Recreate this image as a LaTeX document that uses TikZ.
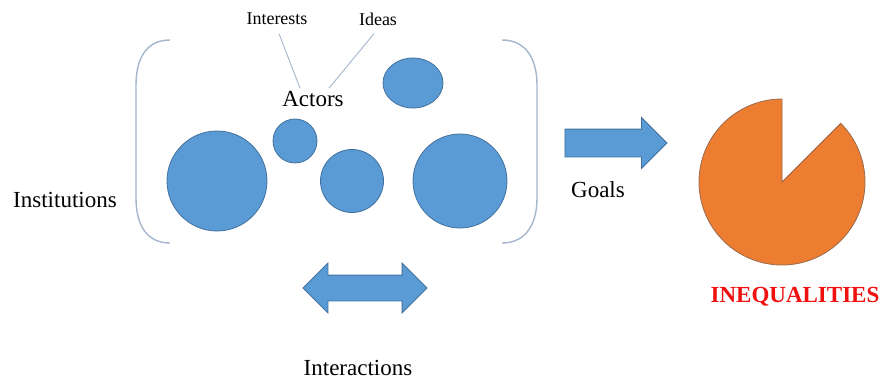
\documentclass[tikz,border=0pt]{standalone}
\usepackage{fontspec}
\setmainfont{Liberation Serif}
\usepackage{tikz}
\definecolor{oblue}{HTML}{5B9BD5}
\definecolor{oblueline}{HTML}{41719C}
\definecolor{oorange}{HTML}{ED7D31}
\definecolor{pieline}{HTML}{9A6A4A}
\definecolor{brgray}{HTML}{A3B6CC}
\definecolor{ineqred}{HTML}{F01010}
\usetikzlibrary{shapes.geometric,shapes.arrows}
\tikzset{blob/.style = {circle,fill=oblue,draw=oblueline,line width=0.8pt,inner sep=0pt}}
\tikzset{big/.style = {font=\fontsize{23}{27}\selectfont}}
\tikzset{small/.style = {font=\fontsize{18}{22}\selectfont}}
\tikzset{brk/.style = {draw=brgray,line width=1.4pt}}

\begin{document}
\begin{tikzpicture}[x=1pt,y=1pt]
      \useasboundingbox (0,0) rectangle (883,381);
      % actors and what drives them
      \node [small] (interests) at (277,362) {Interests};
      \node [small] (ideas) at (378,362) {Ideas};
      \node [big, inner sep=0pt] (actors) at (313,282) {Actors};
      \draw [brk, line width=0.9pt, shorten <=6pt] (interests.south) -- ([xshift=-13pt,yshift=3pt]actors.north);
      \draw [brk, line width=0.9pt, shorten <=6pt] (ideas.south) -- ([xshift=16pt,yshift=3pt]actors.north);
      \node [blob, ellipse, minimum width=60pt, minimum height=50pt] (topone) at (413,298) {};
      \node [blob, minimum size=44pt] (smallone) at (295,240) {};
      \node [blob, minimum size=100pt] (bigleft) at (217,200) {};
      \node [blob, minimum size=63pt] (middle) at (352,200) {};
      \node [blob, minimum size=94pt] (bigright) at (460,200) {};
      % the brackets
      \draw [brk] (170,341) .. controls (146,341) and (136,322) .. (136,296)
        -- (136,183) .. controls (136,157) and (146,138) .. (170,138);
      \draw [brk] (502,341) .. controls (526,341) and (537,322) .. (537,296)
        -- (537,183) .. controls (537,157) and (526,138) .. (502,138);
      \node [big] (institutions) at (65,181) {Institutions};
      % arrows
      \node [single arrow, fill=oblue, draw=oblueline, line width=0.8pt, inner xsep=0pt, inner ysep=13.5pt,
        minimum height=102pt, minimum width=50pt, single arrow head extend=11.5pt] (goalarrow) at (609,238) {};
      \node [big] (goals) at (598,191) {Goals};
      \node [double arrow, fill=oblue, draw=oblueline, line width=0.8pt, inner xsep=0pt, inner ysep=12.5pt,
        minimum height=124pt, minimum width=49pt, double arrow head extend=12pt] (interarrow) at (365,93) {};
      \node [big] (interactions) at (358,13) {Interactions};
      % the pie
      \coordinate (pie) at (782,199);
      \filldraw [fill=oorange, draw=pieline, line width=0.8pt] (pie) -- ++(90:83)
        arc[start angle=90, end angle=405, radius=83] -- cycle;
      \node [big, ineqred, font=\fontsize{23}{27}\selectfont\bfseries] (ineq) at (795,84) {INEQUALITIES};
\end{tikzpicture}
\end{document}
